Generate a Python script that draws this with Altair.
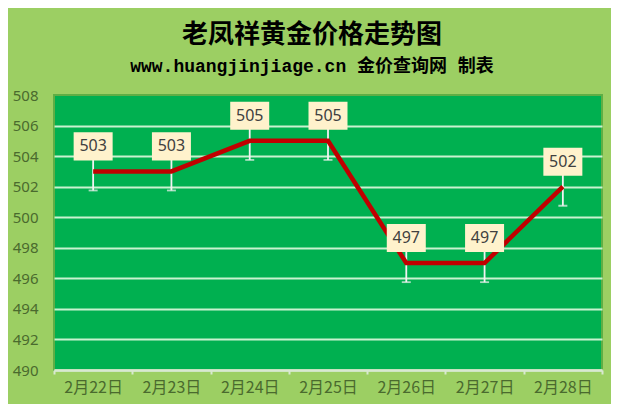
import altair as alt
import pandas as pd

dates = ['2月22日', '2月23日', '2月24日', '2月25日', '2月26日', '2月27日', '2月28日']
prices = [503, 503, 505, 505, 497, 497, 502]
err = [1.25, 1.25, 1.25, 1.25, 1.25, 1.25, 1.25]
y_ticks = [490, 492, 494, 496, 498, 500, 502, 504, 506, 508]

df = pd.DataFrame({'date': dates, 'price': prices, 'err': err})
df['lo'] = df['price'] - df['err']
df['hi'] = df['price'] + df['err']

BG = '#9ccf63'
PLOT = '#00b050'
LABEL = '#4a6a2e'

x = alt.X('date:N', sort=dates, title=None,
          scale=alt.Scale(type='band', paddingInner=0, paddingOuter=0),
          axis=alt.Axis(labelAngle=0, labelFont='Noto Sans CJK SC', labelFontSize=16,
                        labelColor=LABEL, labelPadding=5, tickBand='extent',
                        tickColor='#d9e8d0', tickSize=4, tickWidth=2,
                        domainColor='#d9e8d0', domainWidth=2.5))

y_scale = alt.Scale(domain=[490, 508], nice=False, zero=False)
y_axis = alt.Axis(values=y_ticks, labelFont='Noto Sans', labelFontSize=15, labelOverlap=False,
                  labelColor=LABEL, labelPadding=16, ticks=False, domain=False,
                  gridColor={'condition': {'test': 'datum.value >= 508', 'value': 'transparent'},
                             'value': '#c9f2cf'},
                  gridWidth=2)


def yy(field):
    return alt.Y(field, title=None, scale=y_scale, axis=y_axis)


base = alt.Chart(df)

bars = base.mark_rule(color='#f2f2f2', strokeWidth=1.8).encode(x=x, y=yy('lo:Q'), y2='hi:Q')
caps = base.mark_tick(color='#f2f2f2', thickness=1.8, size=9).encode(x=x, y=yy('lo:Q'))
line = base.mark_line(color='#c00000', strokeWidth=4.5).encode(x=x, y=yy('price:Q'))
boxes = base.mark_point(shape='M-1,-0.72L1,-0.72L1,0.72L-1,0.72Z', size=1521, filled=True,
                        opacity=1, color='#fff2cc').encode(
    x=x, y=yy('price:Q'), yOffset=alt.value(-25))
labels = base.mark_text(fontSize=16, font='Noto Sans', color='#404040', dy=-25).encode(
    x=x, y=yy('price:Q'), text='price:Q')

chart = alt.layer(bars, caps, line, boxes, labels).properties(
    width=548, height=275,
    padding={'left': 46, 'top': 87, 'right': 9, 'bottom': 34},
    autosize=alt.AutoSizeParams(type='none'),
    background=BG,
    title=alt.Title('老凤祥黄金价格走势图',
                    subtitle='www.huangjinjiage.cn 金价查询网 制表',
                    font='Noto Sans CJK SC', fontSize=26, fontWeight='bold', color='#000000',
                    subtitleFont='Liberation Mono, Noto Sans CJK SC', subtitleFontSize=18,
                    subtitleFontWeight='bold', subtitleColor='#000000', subtitlePadding=10,
                    anchor='middle', dx=-16, offset=12)
).configure_view(fill=PLOT, stroke='#5fae45', strokeWidth=2)

chart.save("out.html", embed_options={"renderer": "svg", "actions": False})
